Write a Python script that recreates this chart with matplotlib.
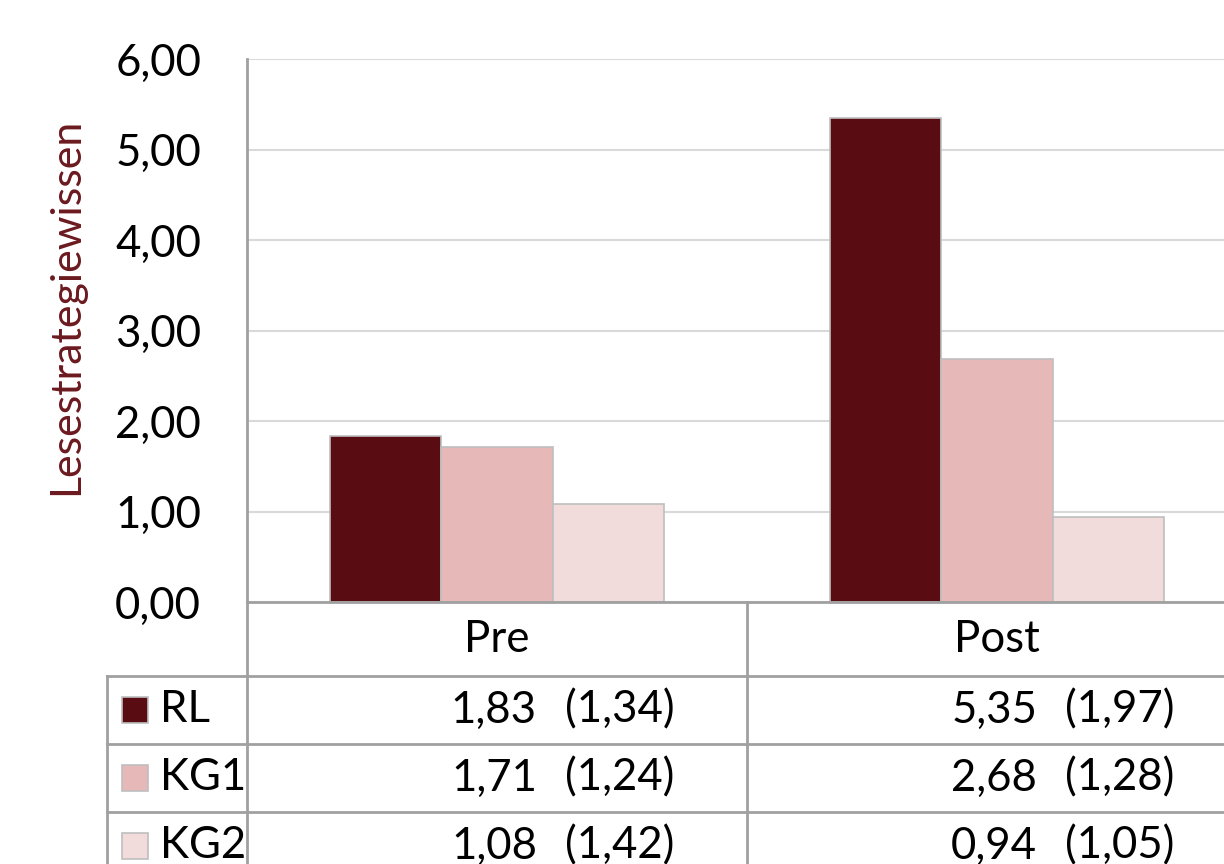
import matplotlib
matplotlib.use("Agg")
import matplotlib.pyplot as plt
from matplotlib.patches import Rectangle
import numpy as np

plt.rcParams['font.family'] = ['Lato', 'DejaVu Sans']

# data
phases = ['Pre', 'Post']
groups = ['RL', 'KG1', 'KG2']
means = {'RL': [1.83, 5.35], 'KG1': [1.71, 2.68], 'KG2': [1.08, 0.94]}
sds = {'RL': [1.34, 1.97], 'KG1': [1.24, 1.28], 'KG2': [1.42, 1.05]}
colors = {'RL': '#590d13', 'KG1': '#e6b8b7', 'KG2': '#f2dcdb'}
yticks = [0, 1, 2, 3, 4, 5, 6]

def fmt(v):
    return f"{v:.2f}".replace('.', ',')

W, H = 1224, 864
FS = 31.5
fig = plt.figure(figsize=(W / 100, H / 100), dpi=100)

# plot area: 247..1247 px wide (right side cut off like the original), 59..602 px tall
top, bottom = 59, 602
ax = fig.add_axes([247 / W, 1 - bottom / H, 1000 / W, (bottom - top) / H])

line_col = '#a0a0a0'
bw = 1 / 4.5  # gap width 150 %
x = np.arange(len(phases))
for i, g in enumerate(groups):
    ax.bar(x + (i - 1) * bw, means[g], width=bw, color=colors[g],
           edgecolor='#bfbfbf', linewidth=1.2, zorder=3)

ax.set_xlim(-0.5, 1.5)
ax.set_ylim(0, 6)
ax.set_yticks(yticks)
ax.set_yticklabels([fmt(v) for v in yticks], fontsize=FS)
ax.tick_params(axis='y', length=0, pad=33)
ax.set_xticks([])
ax.grid(axis='y', color='#d9d9d9', linewidth=1.5, zorder=0)
for s in ['top', 'right', 'bottom']:
    ax.spines[s].set_visible(False)
ax.spines['left'].set_color(line_col)
ax.spines['left'].set_linewidth(2)

fig.text(66 / W, 1 - 306 / H, 'Lesestrategiewissen', rotation=90,
         ha='center', va='center', fontsize=31, color='#6b1a1f')

# data table below the plot (x in category units, y in pixels)
tr = ax.get_xaxis_transform()
def ypx(p):
    return (bottom - p) / (bottom - top)

left_edge = -0.5 - 140 / 500
header_bot = 676
row_h = 68
n_rows = len(groups)
table_bot = header_bot + row_h * n_rows

lk = dict(color=line_col, linewidth=2, transform=tr, clip_on=False, zorder=5)
ax.plot([-0.5, 1.5], [ypx(bottom)] * 2, **lk)
for r in range(n_rows):
    yy = ypx(header_bot + r * row_h)
    ax.plot([left_edge, 1.5], [yy, yy], **lk)
ax.plot([-0.5, -0.5], [ypx(bottom), ypx(table_bot)], **lk)
ax.plot([0.5, 0.5], [ypx(bottom), ypx(table_bot)], **lk)
ax.plot([left_edge, left_edge], [ypx(header_bot), ypx(table_bot)], **lk)

for j, ph in enumerate(phases):
    ax.text(j, ypx((bottom + header_bot) / 2), ph, transform=tr, ha='center',
            va='center', fontsize=FS, clip_on=False)

for r, g in enumerate(groups):
    yc = header_bot + r * row_h + row_h / 2
    ax.add_patch(Rectangle((left_edge + 15 / 500, ypx(yc + 13)), 26 / 500,
                           26 / (bottom - top), transform=tr, facecolor=colors[g],
                           edgecolor='#bfbfbf', linewidth=1.2, clip_on=False))
    ax.text(left_edge + 53 / 500, ypx(yc), g, transform=tr, ha='left',
            va='center', fontsize=FS, clip_on=False)
    for j in range(len(phases)):
        col_r = j + 0.5
        ax.text(col_r - 0.42, ypx(yc), fmt(means[g][j]), transform=tr,
                ha='right', va='center', fontsize=FS, clip_on=False)
        ax.text(col_r - 0.145, ypx(yc), f"({fmt(sds[g][j])})", transform=tr,
                ha='right', va='center', fontsize=FS, clip_on=False)

fig.savefig('out.png', dpi=100)
